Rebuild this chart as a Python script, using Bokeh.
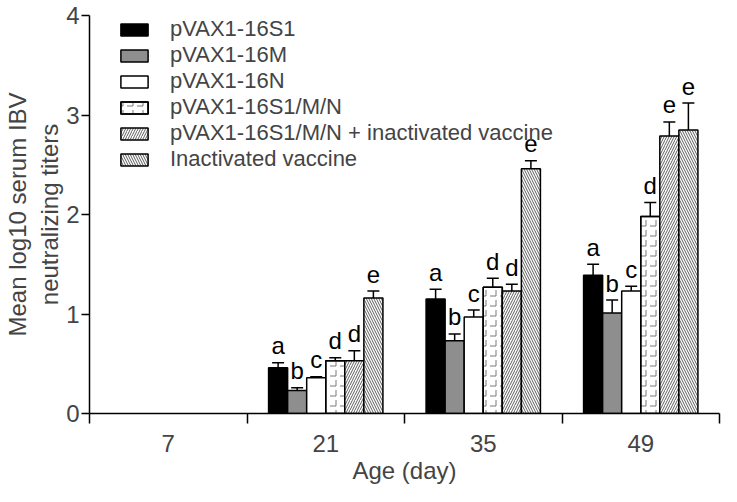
from bokeh.plotting import figure
from bokeh.models import (FixedTicker, Whisker, TeeHead, ColumnDataSource, Legend,
                          LegendItem, Range1d)
from bokeh.core.properties import value
from bokeh.embed import file_html
from bokeh.resources import INLINE

# ---- data ----
days = ["7", "21", "35", "49"]
bar_days = ["21", "35", "49"]
series = ["pVAX1-16S1", "pVAX1-16M", "pVAX1-16N", "pVAX1-16S1/M/N",
          "pVAX1-16S1/M/N + inactivated vaccine", "Inactivated vaccine"]
s1 = [0.46, 1.15, 1.39]
m16 = [0.23, 0.73, 1.01]
n16 = [0.36, 0.97, 1.23]
smn = [0.53, 1.27, 1.98]
smn_inact = [0.53, 1.23, 2.79]
inact = [1.16, 2.46, 2.85]
s1_err = [0.05, 0.10, 0.11]
m16_err = [0.03, 0.07, 0.13]
n16_err = [0.01, 0.07, 0.05]
smn_err = [0.03, 0.09, 0.14]
smn_inact_err = [0.10, 0.07, 0.14]
inact_err = [0.07, 0.08, 0.27]
letters_s1 = ["a", "a", "a"]
letters_m16 = ["b", "b", "b"]
letters_n16 = ["c", "c", "c"]
letters_smn = ["d", "d", "d"]
letters_smn_inact = ["d", "d", "e"]
letters_inact = ["e", "e", "e"]
y_ticks = [0, 1, 2, 3, 4]

means = [s1, m16, n16, smn, smn_inact, inact]
errs = [s1_err, m16_err, n16_err, smn_err, smn_inact_err, inact_err]
letters = [letters_s1, letters_m16, letters_n16, letters_smn, letters_smn_inact, letters_inact]

FONT = "Liberation Sans"
BW = 0.121

p = figure(width=721, height=486, output_backend="svg", toolbar_location=None,
           x_range=Range1d(0, len(days)), y_range=Range1d(0, 4),
           min_border_left=80, min_border_right=2, min_border_top=15, min_border_bottom=68)
p.xgrid.visible = False
p.ygrid.visible = False
p.outline_line_color = None
p.background_fill_color = "white"

styles = [
    dict(fill_color="black"),
    dict(fill_color="#8e8e8e"),
    dict(fill_color="white"),
    None,
    dict(fill_color="white", hatch_pattern="right_diagonal_line", hatch_scale=5,
         hatch_weight=0.8, hatch_color="#333333"),
    dict(fill_color="white", hatch_pattern="left_diagonal_line", hatch_scale=5,
         hatch_weight=0.8, hatch_color="#333333"),
]

items = []
for i, name in enumerate(series):
    xs = [days.index(d) + 0.5 + (i - 2.5) * BW for d in bar_days]
    tops = means[i]
    uppers = [t + e for t, e in zip(tops, errs[i])]
    src = ColumnDataSource(dict(x=xs, top=tops, upper=uppers, lab=letters[i]))
    w = Whisker(source=src, base="x", lower="top", upper="upper", lower_head=None,
                upper_head=TeeHead(size=12, line_width=1.5, line_color="black"),
                line_width=1.5, line_color="black")
    p.add_layout(w)
    if styles[i] is None:
        r1 = p.vbar(x="x", top="top", width=BW, bottom=0, source=src, fill_color="white",
                    line_color="black", line_width=1.5, hatch_pattern="horizontal_dash",
                    hatch_scale=10, hatch_weight=1, hatch_color="#777777")
        r2 = p.vbar(x="x", top="top", width=BW, bottom=0, source=src, fill_color=None,
                    line_color="black", line_width=1.5, hatch_pattern="vertical_dash",
                    hatch_scale=10, hatch_weight=1, hatch_color="#777777")
        rs = [r1, r2]
    else:
        r = p.vbar(x="x", top="top", width=BW, bottom=0, source=src,
                   line_color="black", line_width=1.5, **styles[i])
        rs = [r]
    p.text(x="x", y="upper", text="lab", source=src, text_align="center",
           text_baseline="alphabetic", y_offset=-17, text_font=value(FONT),
           text_font_size="24px", text_color="black")
    items.append(LegendItem(label=name, renderers=rs))

legend = Legend(items=items, location=(28, 241), padding=0, margin=0, spacing=0,
                glyph_width=34, glyph_height=15, label_standoff=19,
                label_text_font=FONT, label_text_font_size="22px",
                border_line_color=None, background_fill_alpha=0)
p.add_layout(legend)

# x axis
xa = p.xaxis[0]
xa.ticker = FixedTicker(ticks=[i + 0.5 for i in range(len(days))],
                        minor_ticks=list(range(len(days) + 1)))
xa.major_label_overrides = {i + 0.5: d for i, d in enumerate(days)}
xa.major_tick_out = 0
xa.major_tick_in = 0
xa.minor_tick_out = 10
xa.minor_tick_in = 0
xa.minor_tick_line_width = 1.5
xa.minor_tick_line_color = "black"
xa.axis_line_width = 1.5
xa.axis_line_color = "black"
xa.major_label_text_font = FONT
xa.major_label_text_font_size = "24px"
xa.major_label_standoff = 11
xa.axis_label = "Age (day)"
xa.axis_label_text_font = FONT
xa.axis_label_text_font_size = "24px"
xa.axis_label_text_font_style = "normal"
xa.axis_label_standoff = 2

ya = p.yaxis[0]
ya.ticker = FixedTicker(ticks=y_ticks, minor_ticks=[])
ya.major_tick_out = 8
ya.major_tick_in = 0
ya.major_tick_line_width = 1.5
ya.axis_line_width = 1.5
ya.major_label_text_font = FONT
ya.major_label_text_font_size = "24px"
ya.major_label_standoff = 2
ya.axis_label = "Mean log10 serum IBV\nneutralizing titers"
ya.axis_label_text_font = FONT
ya.axis_label_text_font_size = "24px"
ya.axis_label_text_font_style = "normal"
ya.axis_label_standoff = 0

open("out.html", "w").write(file_html(p, INLINE))
